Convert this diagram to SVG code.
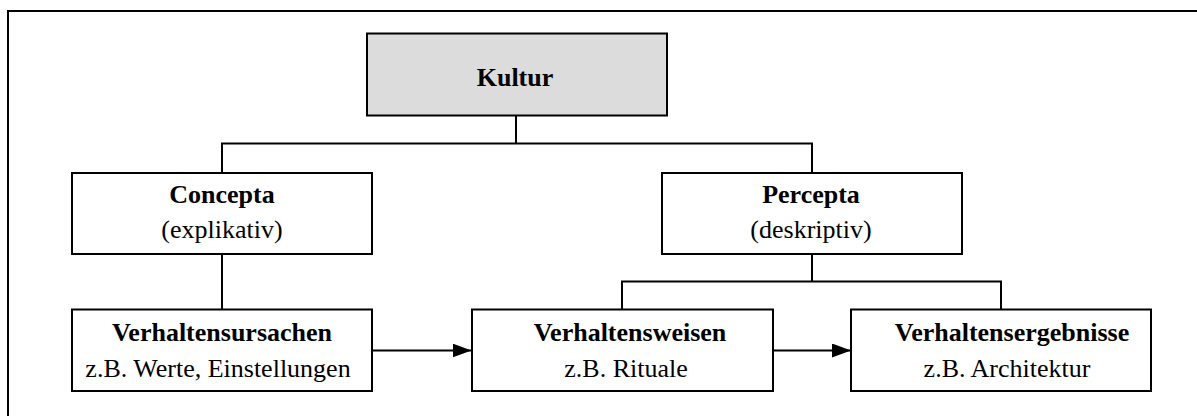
<svg xmlns="http://www.w3.org/2000/svg" width="1197" height="416" viewBox="0 0 1197 416">
  <style>
    .box { fill: #ffffff; stroke: #000000; stroke-width: 2; }
    .root { fill: #dcdcdc; stroke: #000000; stroke-width: 2; }
    .frame { fill: none; stroke: #000000; stroke-width: 2; }
    .link { fill: none; stroke: #000000; stroke-width: 2; }
    .b { font-family: "Liberation Serif", "Times New Roman", serif; font-size: 26px; font-weight: bold; fill: #000000; text-anchor: middle; }
    .r { font-family: "Liberation Serif", "Times New Roman", serif; font-size: 26px; fill: #000000; text-anchor: middle; }
  </style>
  <defs>
    <marker id="arrow" markerUnits="userSpaceOnUse" markerWidth="20" markerHeight="16" refX="19" refY="7" orient="auto">
      <path d="M0,0 L19,7 L0,14 Z" fill="#000000"/>
    </marker>
  </defs>

  <rect width="1197" height="416" fill="#ffffff"/>
  <!-- outer frame, running past the right and bottom edges -->
  <rect class="frame" x="8" y="11" width="1200" height="420"/>

  <g id="connectors">
    <path class="link" d="M516,116 V143.5 M222,173 V143.5 H812 V173"/>
    <path class="link" d="M222,254 V309"/>
    <path class="link" d="M812,254 V281.5 M622,309 V281.5 H1001 V309"/>
    <path class="link" d="M372,350.5 H471.5" marker-end="url(#arrow)"/>
    <path class="link" d="M773,350.5 H851" marker-end="url(#arrow)"/>
  </g>

  <g id="kultur">
    <rect class="root" x="367" y="33.5" width="300" height="82"/>
    <text class="b" x="515" y="86">Kultur</text>
  </g>

  <g id="concepta">
    <rect class="box" x="72" y="173" width="300" height="81"/>
    <text class="b" x="222" y="203">Concepta</text>
    <text class="r" x="222" y="238">(explikativ)</text>
  </g>

  <g id="percepta">
    <rect class="box" x="662" y="173" width="300" height="81"/>
    <text class="b" x="811" y="203">Percepta</text>
    <text class="r" x="811" y="238">(deskriptiv)</text>
  </g>

  <g id="verhaltensursachen">
    <rect class="box" x="72" y="309.5" width="300" height="81.5"/>
    <text class="b" x="222" y="341">Verhaltensursachen</text>
    <text class="r" x="218" y="377">z.B. Werte, Einstellungen</text>
  </g>

  <g id="verhaltensweisen">
    <rect class="box" x="472" y="309.5" width="301" height="81.5"/>
    <text class="b" x="630" y="341">Verhaltensweisen</text>
    <text class="r" x="626" y="377">z.B. Rituale</text>
  </g>

  <g id="verhaltensergebnisse">
    <rect class="box" x="851" y="309.5" width="300" height="81.5"/>
    <text class="b" x="1012" y="341">Verhaltensergebnisse</text>
    <text class="r" x="1007" y="377">z.B. Architektur</text>
  </g>
</svg>
